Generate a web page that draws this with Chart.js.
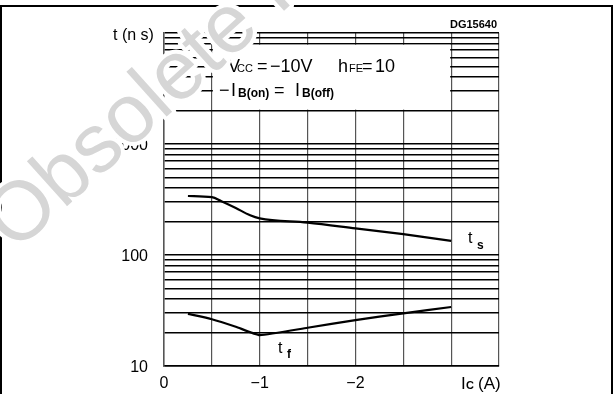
<!DOCTYPE html>
<html>
<head>
<meta charset="utf-8">
<script src="https://cdn.jsdelivr.net/npm/chart.js@4/dist/chart.umd.min.js"></script>
<style>
  html, body { margin: 0; padding: 0; background: #fff; }
  #wrap { width: 615px; height: 394px; }
</style>
</head>
<body>
<div id="wrap"><canvas id="myChart" width="615" height="394"></canvas></div>
<script>
// I_C (A) positions and switching times (ns)
const icStorage = [-0.25, -0.5, -0.6, -0.75, -0.9, -1, -1.5, -2, -2.5, -3]
const tsValues = [340, 332, 305, 265, 228, 214, 196, 174, 154, 134]
const icFall = [-0.25, -0.5, -0.75, -1, -1.5, -2, -2.5, -3]
const tfValues = [29.5, 26.4, 22.6, 19, 22.1, 25.9, 29.8, 34]

// grid + tick labels
const xGrid = [0, -0.5, -1, -1.5, -2, -2.5, -3, -3.5]
const xTickValues = [0, -1, -2]
const xTickLabels = ['0', '\u22121', '\u22122']
const yGrid = [10, 20, 30, 40, 50, 60, 70, 80, 90,
               100, 200, 300, 400, 500, 600, 700, 800, 900,
               1000, 2000, 3000, 4000, 5000, 6000, 7000, 8000, 9000, 10000]
const yTickValues = [10, 100, 1000]
const yTickLabels = ['10', '100', '1000']

const FONT = "'Liberation Sans', Arial, sans-serif"

;(() => {
    'use strict'

    function txt(ctx, s, x, y, size, bold) {
        ctx.font = (bold ? 'bold ' : '') + size + 'px ' + FONT
        ctx.fillText(s, x, y)
    }

    const drawings = {
        id: 'drawings',
        beforeDatasetsDraw(chart) {
            const ctx = chart.ctx
            const xs = chart.scales.x
            const ys = chart.scales.y
            // white condition box over the top grid
            const l = xs.getPixelForValue(-0.5) + 1
            const r = xs.getPixelForValue(-3) - 1
            const t = ys.getPixelForValue(8000) + 1
            const b = ys.getPixelForValue(2000) - 1
            ctx.save()
            ctx.fillStyle = '#fff'
            ctx.fillRect(l, t, r - l, b - t)
            ctx.fillStyle = '#000'
            ctx.textBaseline = 'alphabetic'
            txt(ctx, 'V', 228, 72, 18)
            txt(ctx, 'CC', 237, 72, 11)
            txt(ctx, '=', 257, 72, 18)
            txt(ctx, '\u221210V', 270, 72, 18)
            txt(ctx, 'h', 338, 72, 18)
            txt(ctx, 'FE', 349, 72, 11)
            txt(ctx, '=', 362, 72, 18)
            txt(ctx, '10', 375, 72, 18)
            txt(ctx, '\u2212', 219, 96, 18)
            txt(ctx, 'I', 231, 96, 18)
            txt(ctx, 'B(on)', 238, 97, 12, true)
            txt(ctx, '=', 274, 96, 18)
            txt(ctx, 'I', 295, 96, 18)
            txt(ctx, 'B(off)', 302, 97, 12, true)
            ctx.restore()
        },
        afterDraw(chart) {
            const ctx = chart.ctx
            ctx.save()
            ctx.fillStyle = '#000'
            ctx.textBaseline = 'alphabetic'
            txt(ctx, 't (n s)', 113, 40, 16)
            txt(ctx, 'DG15640', 450, 28, 11, true)
            txt(ctx, 't', 468, 243, 16)
            txt(ctx, 's', 477, 249, 12, true)
            txt(ctx, 't', 278, 353, 16)
            txt(ctx, 'f', 287, 358, 12, true)
            txt(ctx, 'I', 461, 389, 17)
            txt(ctx, 'C', 466, 389, 11, true)
            txt(ctx, '(A)', 478, 389, 17)

            // page frame
            ctx.strokeStyle = '#000'
            ctx.lineWidth = 2
            ctx.beginPath()
            ctx.moveTo(1, 394)
            ctx.lineTo(1, 6)
            ctx.lineTo(612, 6)
            ctx.lineTo(612, 394)
            ctx.stroke()

            // watermark
            ctx.translate(15, 253)
            ctx.rotate(-42 * Math.PI / 180)
            ctx.font = '83px ' + FONT
            ctx.lineJoin = 'round'
            ctx.strokeStyle = '#fff'
            ctx.lineWidth = 8
            ctx.strokeText('Obsolete Product(s)', 0, 0)
            ctx.fillStyle = '#d6d6d6'
            ctx.fillText('Obsolete Product(s)', 0, 0)
            ctx.restore()
        }
    }

    const ctx = document.getElementById('myChart')
    const myChart = new Chart(ctx, {
        type: 'line',
        data: {
            datasets: [{
                label: 'ts',
                data: icStorage.map((v, i) => ({x: v, y: tsValues[i]})),
                borderColor: '#000',
                borderWidth: 2.2,
                pointRadius: 0,
                cubicInterpolationMode: 'monotone',
                fill: false
            }, {
                label: 'tf',
                data: icFall.map((v, i) => ({x: v, y: tfValues[i]})),
                borderColor: '#000',
                borderWidth: 2.2,
                pointRadius: 0,
                tension: 0.15,
                fill: false
            }]
        },
        options: {
            responsive: false,
            animation: false,
            layout: {padding: {left: 0, right: 116, top: 33, bottom: 0}},
            plugins: {
                legend: {display: false},
                tooltip: {enabled: false}
            },
            scales: {
                x: {
                    type: 'linear',
                    min: -3.5,
                    max: 0,
                    reverse: true,
                    afterBuildTicks: s => { s.ticks = xGrid.map(v => ({value: v})) },
                    afterFit: s => { s.height = 28 },
                    grid: {color: '#555', lineWidth: 1.2, drawTicks: false},
                    border: {color: '#000', width: 1.5},
                    ticks: {
                        autoSkip: false,
                        maxRotation: 0,
                        padding: 8,
                        color: '#000',
                        font: {family: FONT, size: 16},
                        callback: v => {
                            const i = xTickValues.indexOf(v)
                            return i >= 0 ? xTickLabels[i] : ''
                        }
                    }
                },
                y: {
                    type: 'logarithmic',
                    min: 10,
                    max: 10000,
                    afterBuildTicks: s => { s.ticks = yGrid.map(v => ({value: v})) },
                    afterFit: s => { s.width = 164 },
                    grid: {color: '#000', lineWidth: 1.4, drawTicks: false},
                    border: {color: '#555', width: 1.5},
                    ticks: {
                        autoSkip: false,
                        padding: 16,
                        labelOffset: 2,
                        color: '#000',
                        font: {family: FONT, size: 16},
                        callback: v => {
                            const i = yTickValues.indexOf(v)
                            return i >= 0 ? yTickLabels[i] : ''
                        }
                    }
                }
            }
        },
        plugins: [drawings]
    })
})()
</script>
</body>
</html>
